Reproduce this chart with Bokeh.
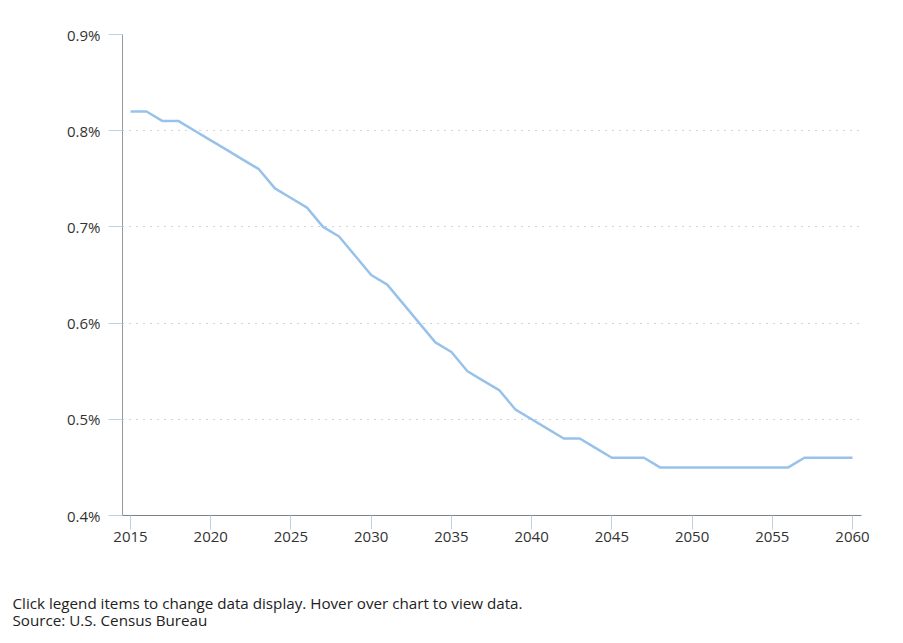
from bokeh.plotting import figure
from bokeh.models import Range1d, PrintfTickFormatter, FixedTicker, Title
from bokeh.embed import file_html
from bokeh.resources import INLINE

years = list(range(2015, 2061))
values = [0.82, 0.82, 0.81, 0.81, 0.80, 0.79, 0.78, 0.77, 0.76, 0.74,
          0.73, 0.72, 0.70, 0.69, 0.67, 0.65, 0.64, 0.62, 0.60, 0.58,
          0.57, 0.55, 0.54, 0.53, 0.51, 0.50, 0.49, 0.48, 0.48, 0.47,
          0.46, 0.46, 0.46, 0.45, 0.45, 0.45, 0.45, 0.45, 0.45, 0.45,
          0.45, 0.45, 0.46, 0.46, 0.46, 0.46]
x_ticks = [2015, 2020, 2025, 2030, 2035, 2040, 2045, 2050, 2055, 2060]
y_ticks = [0.4, 0.5, 0.6, 0.7, 0.8, 0.9]
footer_lines = ["Click legend items to change data display. Hover over chart to view data.",
                "Source: U.S. Census Bureau"]

FONT = "Open Sans"
W, H = 887, 629
p = figure(width=W, height=H, output_backend="svg", toolbar_location=None,
           x_range=Range1d(2014.5, 2060.56), y_range=Range1d(0.4, 0.9),
           min_border_left=122, min_border_right=26, min_border_top=34,
           min_border_bottom=0)
p.outline_line_color = None
p.background_fill_color = "white"

p.line(years, values, line_color="#99c2ea", line_width=2.5)

for ax in (p.xaxis[0], p.yaxis[0]):
    ax.major_label_text_font = FONT
    ax.major_label_text_font_size = "15px"
    ax.major_label_text_color = "#333333"
    ax.major_tick_line_color = "#c0d0e0"
    ax.major_tick_in = 0
    ax.major_tick_out = 14
    ax.minor_tick_line_color = None

p.xaxis[0].ticker = FixedTicker(ticks=x_ticks)
p.xaxis[0].axis_line_color = "#808080"
p.xaxis[0].major_label_standoff = 2
p.yaxis[0].ticker = FixedTicker(ticks=y_ticks)
p.yaxis[0].formatter = PrintfTickFormatter(format="%.1f%%")
p.yaxis[0].axis_line_color = "#999999"
p.yaxis[0].major_label_standoff = 8

p.xgrid.grid_line_color = None
p.ygrid.grid_line_color = "#a8a8a8"
p.ygrid.grid_line_dash = "1 6"
p.ygrid.ticker = FixedTicker(ticks=y_ticks)

# spacer between axis and footer, then the two footer lines
p.add_layout(Title(text=" ", standoff=33, text_font_size="10px"), "below")
p.add_layout(Title(text="\n".join(footer_lines), align="left", offset=-110, standoff=0,
                   text_font=FONT, text_font_size="15.2px", text_font_style="normal",
                   text_line_height=0.85, text_color="#222222"), "below")

open("out.html", "w").write(file_html(p, INLINE))
